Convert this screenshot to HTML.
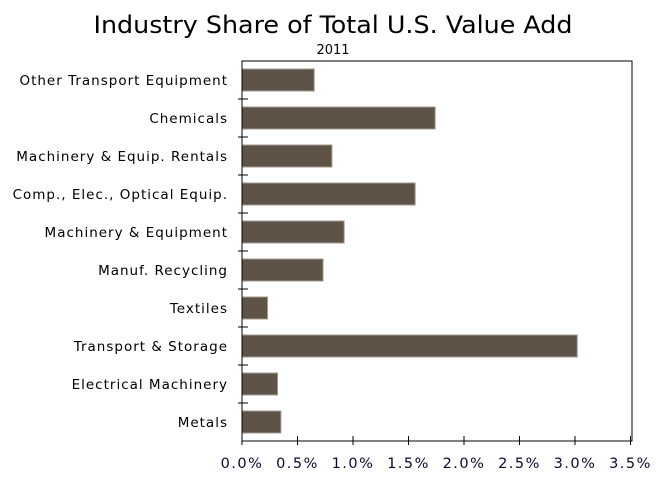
<!DOCTYPE html>
<html><head><meta charset="utf-8"><style>
html,body{margin:0;padding:0;background:#fff;}
svg{display:block;font-family:"DejaVu Sans","Liberation Sans",sans-serif;}
</style></head><body>
<svg id="chart" width="661" height="492" viewBox="0 0 661 492">
<text x="333" y="33" text-anchor="middle" font-size="24" fill="#000" textLength="479" lengthAdjust="spacingAndGlyphs">Industry Share of Total U.S. Value Add</text>
<text x="333" y="54" text-anchor="middle" font-size="13" fill="#000">2011</text>
<g id="plot"></g>
</svg>
<script>
const categories=["Other Transport Equipment","Chemicals","Machinery & Equip. Rentals","Comp., Elec., Optical Equip.","Machinery & Equipment","Manuf. Recycling","Textiles","Transport & Storage","Electrical Machinery","Metals"];
const values=[0.65,1.74,0.81,1.56,0.92,0.73,0.23,3.02,0.32,0.35];
const ticks=[0,0.5,1,1.5,2,2.5,3,3.5];
const tickLabels=["0.0%","0.5%","1.0%","1.5%","2.0%","2.5%","3.0%","3.5%"];
const L=242,R=630.5,T=61,B=441,NS="http://www.w3.org/2000/svg";
const xs=v=>L+(v/3.5)*(R-L);
const rowH=(B-T)/categories.length;
const g=document.getElementById('plot');
function mk(tag,attrs){const e=document.createElementNS(NS,tag);for(const k in attrs)e.setAttribute(k,attrs[k]);g.appendChild(e);return e;}
categories.forEach((c,i)=>{
 const y0=T+i*rowH;
 const b=mk('rect',{x:L,y:y0+8,width:xs(values[i])-L,height:22,fill:'#5f5247',stroke:'#a09890','stroke-width':1});
 
 
 const t=mk('text',{x:228,y:y0+24,'text-anchor':'end','font-size':13.5,'letter-spacing':1,fill:'#000'});
 t.textContent=c;
 
 
 if(i>0){const tk=mk('line',{x1:L-4,x2:L+6,y1:y0,y2:y0,stroke:'#000'});
 
 }
});
const ax=mk('path',{d:`M${L} ${T}H${R+1.5}V${B}H${L}Z`,fill:'none',stroke:'#000','stroke-width':1});


ticks.forEach((v,i)=>{
 const x=xs(v);
 const tk=mk('line',{x1:x,x2:x,y1:B-5,y2:B+4,stroke:'#000'});
 
 
 const t=mk('text',{x:x,y:468,'text-anchor':'middle','font-size':14.5,'letter-spacing':1.5,fill:'#0a0a30'});
 t.textContent=tickLabels[i];
 
 
});
</script>
</body></html>
